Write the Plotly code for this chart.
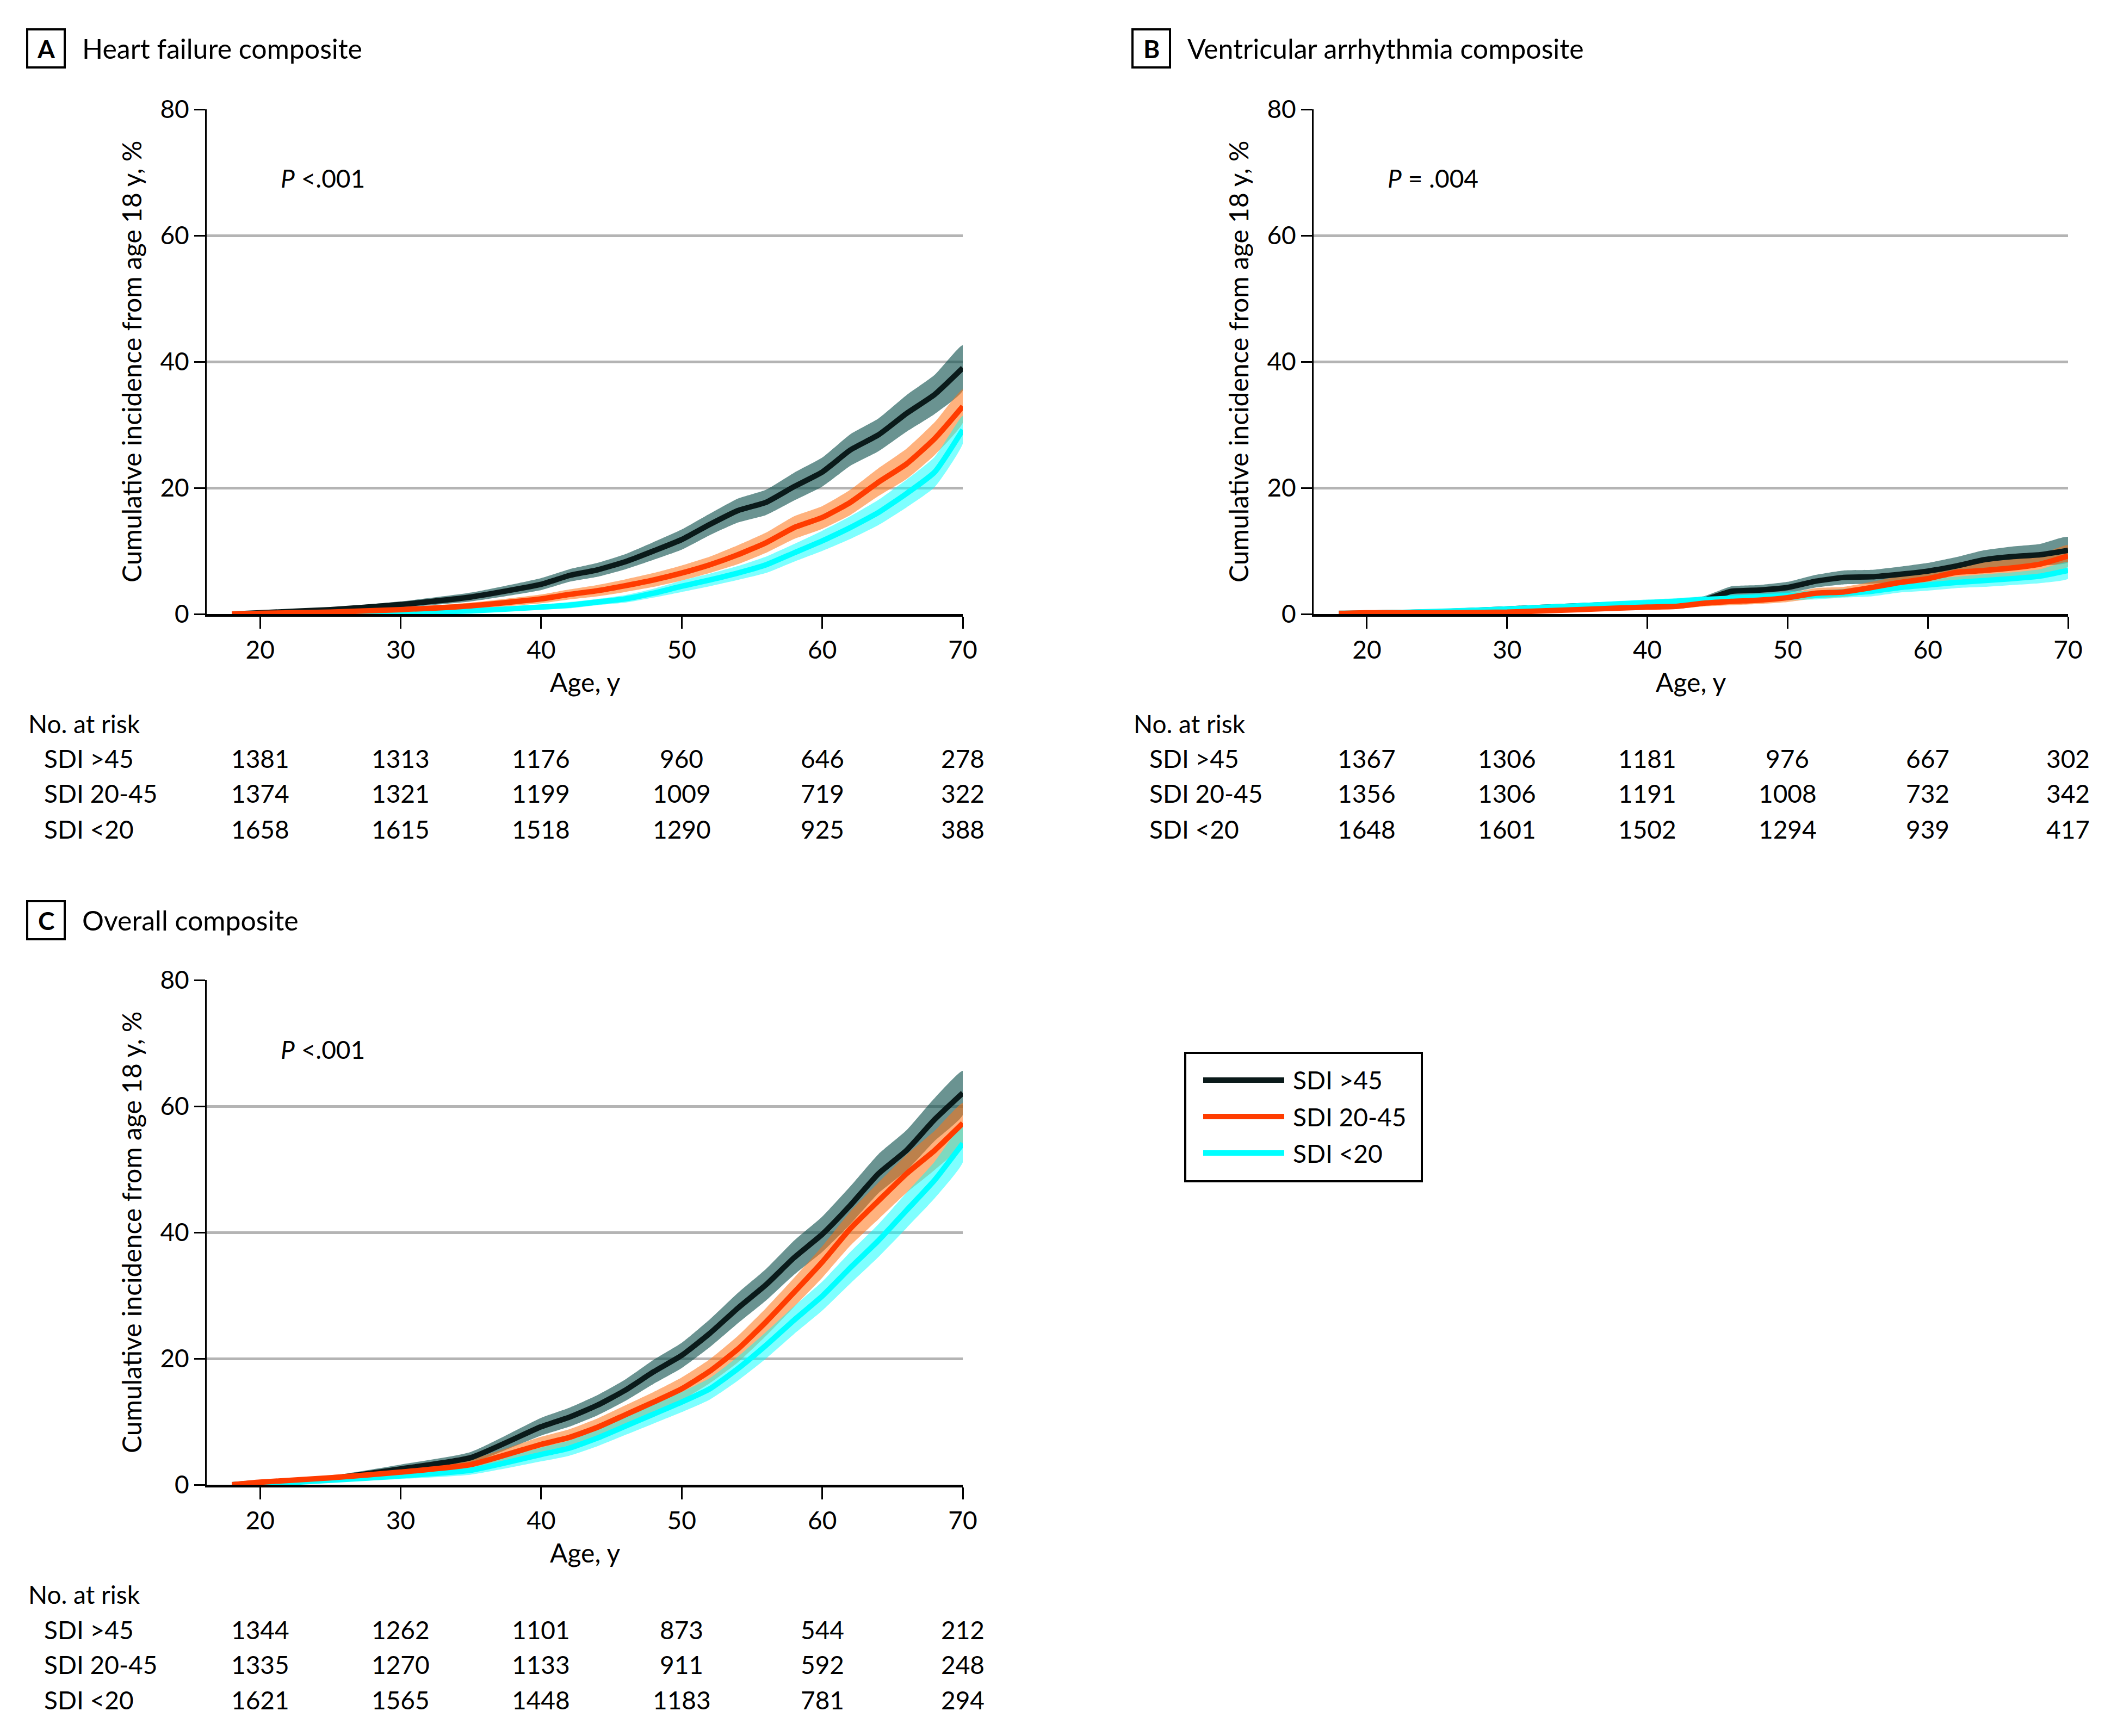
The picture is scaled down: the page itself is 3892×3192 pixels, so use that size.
import plotly.graph_objects as go

W, H = 3892, 3192
FONT = "Lato, 'Open Sans', sans-serif"

# ---------------- data ----------------
AGES = [18, 20, 25, 30, 35, 40, 42, 44, 46, 48, 50, 52, 54, 56, 58, 60, 62, 64, 66, 68, 70]
GROUPS = ["SDI >45", "SDI 20-45", "SDI <20"]
RISK_AGES = [20, 30, 40, 50, 60, 70]

# Panel A: Heart failure composite
A_HIGH_EST = [0, 0.2, 0.7, 1.5, 2.7, 4.7, 6.1, 7.0, 8.3, 10.0, 11.8, 14.2, 16.4, 17.7, 20.2, 22.5, 26.0, 28.4, 31.8, 34.8, 39.0]
A_HIGH_LO = [0, 0.1, 0.4, 1.0, 2.0, 3.8, 5.1, 5.9, 7.1, 8.6, 10.2, 12.5, 14.5, 15.7, 18.0, 20.2, 23.5, 25.8, 28.9, 31.7, 35.4]
A_HIGH_HI = [0, 0.3, 1.0, 2.0, 3.4, 5.7, 7.1, 8.1, 9.5, 11.4, 13.4, 15.9, 18.3, 19.7, 22.4, 24.8, 28.5, 31.0, 34.7, 37.9, 42.6]
A_MID_EST = [0, 0.1, 0.3, 0.7, 1.3, 2.4, 3.1, 3.7, 4.5, 5.4, 6.5, 7.8, 9.4, 11.3, 13.7, 15.3, 17.7, 20.9, 23.8, 27.8, 32.9]
A_MID_LO = [0, 0, 0.1, 0.4, 0.8, 1.7, 2.3, 2.8, 3.5, 4.3, 5.3, 6.5, 7.9, 9.7, 11.9, 13.5, 15.7, 18.7, 21.4, 25.2, 30.3]
A_MID_HI = [0, 0.2, 0.5, 1.0, 1.8, 3.1, 3.9, 4.6, 5.5, 6.5, 7.7, 9.1, 10.9, 12.9, 15.5, 17.1, 19.7, 23.1, 26.2, 30.4, 35.6]
A_LOW_EST = [0, 0, 0.1, 0.2, 0.5, 1.1, 1.4, 1.9, 2.4, 3.3, 4.4, 5.4, 6.5, 7.8, 9.7, 11.6, 13.7, 16.1, 19.1, 22.5, 29.2]
A_LOW_LO = [0, 0, 0, 0.1, 0.3, 0.7, 0.9, 1.4, 1.8, 2.6, 3.5, 4.4, 5.4, 6.5, 8.3, 10.0, 11.9, 14.1, 16.9, 20.1, 27.0]
A_LOW_HI = [0, 0.1, 0.2, 0.4, 0.8, 1.5, 1.9, 2.4, 3.0, 4.0, 5.3, 6.4, 7.6, 9.1, 11.1, 13.2, 15.5, 18.1, 21.3, 24.9, 31.4]
A_RISK_HIGH = [1381, 1313, 1176, 960, 646, 278]
A_RISK_MID = [1374, 1321, 1199, 1009, 719, 322]
A_RISK_LOW = [1658, 1615, 1518, 1290, 925, 388]

# Panel B: Ventricular arrhythmia composite
B_HIGH_EST = [0, 0.15, 0.35, 0.8, 1.3, 1.7, 1.9, 2.2, 3.6, 3.8, 4.2, 5.2, 5.8, 5.9, 6.3, 6.8, 7.6, 8.6, 9.1, 9.4, 10.1]
B_HIGH_LO = [0, 0.05, 0.15, 0.5, 0.9, 1.2, 1.4, 1.6, 2.8, 3.0, 3.3, 4.2, 4.7, 4.8, 5.1, 5.5, 6.2, 7.1, 7.5, 7.7, 8.2]
B_HIGH_HI = [0, 0.25, 0.55, 1.1, 1.7, 2.2, 2.4, 2.8, 4.4, 4.6, 5.1, 6.2, 6.9, 7.0, 7.5, 8.1, 9.0, 10.1, 10.7, 11.1, 12.2]
B_MID_EST = [0.1, 0.2, 0.2, 0.3, 0.7, 1.1, 1.2, 1.7, 2.0, 2.2, 2.6, 3.3, 3.5, 4.2, 5.0, 5.6, 6.6, 6.9, 7.3, 7.9, 9.2]
B_MID_LO = [0, 0.05, 0.05, 0.1, 0.4, 0.7, 0.8, 1.2, 1.4, 1.6, 1.9, 2.5, 2.7, 3.3, 4.0, 4.5, 5.4, 5.6, 5.9, 6.4, 7.5]
B_MID_HI = [0.2, 0.35, 0.4, 0.5, 1.0, 1.5, 1.6, 2.2, 2.6, 2.8, 3.3, 4.1, 4.3, 5.1, 6.0, 6.7, 7.8, 8.2, 8.7, 9.4, 10.9]
B_LOW_EST = [0.1, 0.15, 0.4, 0.8, 1.3, 1.8, 2.0, 2.3, 2.5, 2.7, 2.9, 3.0, 3.3, 3.6, 4.2, 4.6, 5.0, 5.3, 5.6, 6.0, 6.9]
B_LOW_LO = [0, 0.05, 0.2, 0.5, 0.9, 1.3, 1.5, 1.8, 1.9, 2.1, 2.2, 2.3, 2.6, 2.8, 3.4, 3.7, 4.1, 4.3, 4.6, 4.9, 5.6]
B_LOW_HI = [0.2, 0.25, 0.6, 1.1, 1.7, 2.3, 2.5, 2.8, 3.1, 3.3, 3.6, 3.7, 4.0, 4.4, 5.0, 5.5, 5.9, 6.3, 6.6, 7.1, 8.2]
B_RISK_HIGH = [1367, 1306, 1181, 976, 667, 302]
B_RISK_MID = [1356, 1306, 1191, 1008, 732, 342]
B_RISK_LOW = [1648, 1601, 1502, 1294, 939, 417]

# Panel C: Overall composite
C_HIGH_EST = [0, 0.35, 1.0, 2.5, 4.3, 9.2, 10.7, 12.6, 15.0, 17.9, 20.5, 24.0, 28.0, 31.7, 36.0, 39.7, 44.3, 49.3, 53.0, 57.9, 62.1]
C_HIGH_LO = [0, 0.2, 0.6, 1.8, 3.4, 7.8, 9.2, 11.0, 13.3, 16.0, 18.5, 21.8, 25.6, 29.2, 33.3, 36.9, 41.3, 46.2, 49.8, 54.5, 58.6]
C_HIGH_HI = [0, 0.5, 1.4, 3.2, 5.2, 10.6, 12.2, 14.2, 16.7, 19.8, 22.5, 26.2, 30.4, 34.2, 38.7, 42.5, 47.3, 52.4, 56.2, 61.3, 65.6]
C_MID_EST = [0, 0.4, 1.1, 2.0, 3.2, 6.4, 7.5, 9.1, 11.1, 13.1, 15.2, 18.0, 21.5, 25.8, 30.5, 35.3, 40.6, 45.0, 49.3, 53.0, 57.3]
C_MID_LO = [0, 0.2, 0.7, 1.4, 2.4, 5.2, 6.2, 7.7, 9.6, 11.5, 13.4, 16.1, 19.4, 23.6, 28.2, 32.8, 37.9, 42.1, 46.3, 49.9, 54.1]
C_MID_HI = [0, 0.6, 1.5, 2.6, 4.0, 7.6, 8.8, 10.5, 12.6, 14.7, 17.0, 19.9, 23.6, 28.0, 32.8, 37.8, 43.3, 47.9, 52.3, 56.1, 60.5]
C_LOW_EST = [0, 0.1, 0.7, 1.4, 2.3, 4.8, 5.8, 7.4, 9.3, 11.2, 13.1, 15.2, 18.4, 22.1, 26.1, 29.9, 34.4, 38.7, 43.5, 48.3, 54.1]
C_LOW_LO = [0, 0, 0.4, 0.9, 1.6, 3.7, 4.6, 6.1, 7.9, 9.7, 11.5, 13.5, 16.5, 20.0, 23.9, 27.6, 31.9, 36.1, 40.7, 45.4, 51.1]
C_LOW_HI = [0, 0.2, 1.0, 1.9, 3.0, 5.9, 7.0, 8.7, 10.7, 12.7, 14.7, 16.9, 20.3, 24.2, 28.3, 32.2, 36.9, 41.3, 46.3, 51.2, 57.1]
C_RISK_HIGH = [1344, 1262, 1101, 873, 544, 212]
C_RISK_MID = [1335, 1270, 1133, 911, 592, 248]
C_RISK_LOW = [1621, 1565, 1448, 1183, 781, 294]

LINE_COLORS = ["#0a1a1a", "#ff3c00", "#00ffff"]
BAND_COLORS = ["rgba(15,80,78,0.62)", "rgba(255,115,20,0.55)", "rgba(0,255,255,0.5)"]


def px(x):
    return x / W


def py(y):
    return 1 - y / H


panels = [
    dict(letter="A", title="Heart failure composite", ax="", left=380, right=1770, top=201, bottom=1129,
         est=[A_HIGH_EST, A_MID_EST, A_LOW_EST], lo=[A_HIGH_LO, A_MID_LO, A_LOW_LO], hi=[A_HIGH_HI, A_MID_HI, A_LOW_HI],
         risk=[A_RISK_HIGH, A_RISK_MID, A_RISK_LOW], p="<i>P</i> <.001",
         box_x=50, title_y=89, risk_y=[1330, 1395, 1459, 1524]),
    dict(letter="B", title="Ventricular arrhythmia composite", ax="2", left=2415, right=3802, top=201, bottom=1129,
         est=[B_HIGH_EST, B_MID_EST, B_LOW_EST], lo=[B_HIGH_LO, B_MID_LO, B_LOW_LO], hi=[B_HIGH_HI, B_MID_HI, B_LOW_HI],
         risk=[B_RISK_HIGH, B_RISK_MID, B_RISK_LOW], p="<i>P</i> = .004",
         box_x=2082, title_y=89, risk_y=[1330, 1395, 1459, 1524]),
    dict(letter="C", title="Overall composite", ax="3", left=380, right=1770, top=1802, bottom=2730,
         est=[C_HIGH_EST, C_MID_EST, C_LOW_EST], lo=[C_HIGH_LO, C_MID_LO, C_LOW_LO], hi=[C_HIGH_HI, C_MID_HI, C_LOW_HI],
         risk=[C_RISK_HIGH, C_RISK_MID, C_RISK_LOW], p="<i>P</i> <.001",
         box_x=50, title_y=1692, risk_y=[2931, 2996, 3060, 3125]),
]

fig = go.Figure()
annotations = []
shapes = []
layout_axes = {}

for pn in panels:
    xa = "x" + pn["ax"]
    ya = "y" + pn["ax"]
    # CI bands
    for g in range(3):
        fig.add_trace(go.Scatter(x=AGES + AGES[::-1], y=pn["hi"][g] + pn["lo"][g][::-1], fill="toself",
                                 fillcolor=BAND_COLORS[g], line=dict(width=0, shape="spline", smoothing=0.5),
                                 mode="lines", showlegend=False, hoverinfo="skip", xaxis=xa, yaxis=ya))
    for g in [0, 2, 1]:
        fig.add_trace(go.Scatter(x=AGES, y=pn["est"][g], mode="lines", name=GROUPS[g],
                                 line=dict(color=LINE_COLORS[g], width=10, shape="spline", smoothing=0.5),
                                 showlegend=False, xaxis=xa, yaxis=ya))

    axis_font = dict(family=FONT, size=46, color="black")
    layout_axes["xaxis" + pn["ax"]] = dict(
        domain=[px(pn["left"]), px(pn["right"])], anchor=ya, range=[16.2, 70], automargin=False,
        tickvals=RISK_AGES, ticks="outside", ticklen=22, tickwidth=3, tickcolor="black",
        showline=True, linecolor="black", linewidth=5, showgrid=False, zeroline=False,
        tickfont=axis_font, fixedrange=True)
    layout_axes["yaxis" + pn["ax"]] = dict(
        domain=[py(pn["bottom"]), py(pn["top"])], anchor=xa, range=[0, 80], automargin=False,
        tickvals=[0, 20, 40, 60, 80], ticks="outside", ticklen=20, tickwidth=3, tickcolor="black",
        showline=True, linecolor="black", linewidth=3, showgrid=True, gridcolor="#b4b4b4", gridwidth=5,
        zeroline=False, tickfont=axis_font, fixedrange=True)

    midy = (pn["top"] + pn["bottom"]) / 2
    annotations.append(dict(text="Cumulative incidence from age 18 y, %", xref="paper", yref="paper",
                            x=px(pn["left"] - 139), y=py(midy), textangle=-90, showarrow=False,
                            xanchor="center", yanchor="middle", font=dict(family=FONT, size=48, color="black")))
    annotations.append(dict(text="Age, y", xref="paper", yref="paper",
                            x=px((pn["left"] + pn["right"]) / 2), y=py(pn["bottom"] + 124), showarrow=False,
                            xanchor="center", yanchor="middle", font=dict(family=FONT, size=48, color="black")))
    annotations.append(dict(text=pn["p"], xref="paper", yref="paper",
                            x=px(pn["left"] + 134), y=py(pn["top"] + 127), showarrow=False,
                            xanchor="left", yanchor="middle", font=dict(family=FONT, size=46, color="black")))

    # panel letter box + title
    bx = pn["box_x"]
    ty = pn["title_y"]
    shapes.append(dict(type="rect", xref="paper", yref="paper", x0=px(bx), x1=px(bx + 69),
                       y0=py(ty + 35), y1=py(ty - 35), line=dict(color="black", width=4), fillcolor="white"))
    annotations.append(dict(text="<b>" + pn["letter"] + "</b>", xref="paper", yref="paper",
                            x=px(bx + 34.5), y=py(ty), showarrow=False, xanchor="center", yanchor="middle",
                            font=dict(family=FONT, size=46, color="black")))
    annotations.append(dict(text=pn["title"], xref="paper", yref="paper", x=px(bx + 99), y=py(ty),
                            showarrow=False, xanchor="left", yanchor="middle",
                            font=dict(family=FONT, size=50, color="black")))

    # number at risk table
    ry = pn["risk_y"]
    annotations.append(dict(text="No. at risk", xref="paper", yref="paper", x=px(bx), y=py(ry[0]),
                            showarrow=False, xanchor="left", yanchor="middle",
                            font=dict(family=FONT, size=46, color="black")))
    for g in range(3):
        annotations.append(dict(text=GROUPS[g], xref="paper", yref="paper", x=px(bx + 29), y=py(ry[g + 1]),
                                showarrow=False, xanchor="left", yanchor="middle",
                                font=dict(family=FONT, size=46, color="black")))
        for age, n in zip(RISK_AGES, pn["risk"][g]):
            annotations.append(dict(text=str(n), xref=xa, yref="paper", x=age, y=py(ry[g + 1]),
                                    showarrow=False, xanchor="center", yanchor="middle",
                                    font=dict(family=FONT, size=46, color="black")))

# manual legend
shapes.append(dict(type="rect", xref="paper", yref="paper", x0=px(2179), x1=px(2614), y0=py(2172), y1=py(1936),
                   line=dict(color="black", width=4), fillcolor="white"))
for g, yy in zip(range(3), [1986, 2053, 2120]):
    shapes.append(dict(type="line", xref="paper", yref="paper", x0=px(2212), x1=px(2361), y0=py(yy), y1=py(yy),
                       line=dict(color=LINE_COLORS[g], width=10)))
    annotations.append(dict(text=GROUPS[g], xref="paper", yref="paper", x=px(2375), y=py(yy),
                            showarrow=False, xanchor="left", yanchor="middle",
                            font=dict(family=FONT, size=46, color="black")))

fig.update_layout(
    template="none",
    width=W, height=H, margin=dict(l=0, r=0, t=0, b=0, pad=0, autoexpand=False),
    paper_bgcolor="white", plot_bgcolor="white", showlegend=False,
    font=dict(family=FONT, size=46, color="black"),
    annotations=annotations, shapes=shapes, **layout_axes)

fig.write_html("out.html")
